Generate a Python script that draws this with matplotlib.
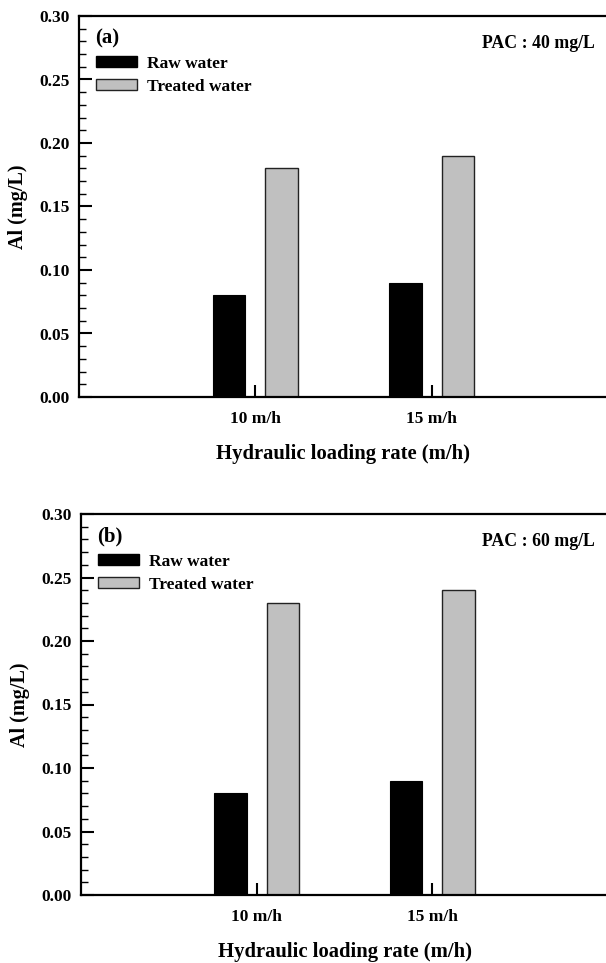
import matplotlib
matplotlib.use("Agg")
import matplotlib.pyplot as plt
import numpy as np
from matplotlib.ticker import MultipleLocator
from matplotlib.patches import Patch

categories = ["10 m/h", "15 m/h"]
raw_a = [0.08, 0.09]
treated_a = [0.18, 0.19]
raw_b = [0.08, 0.09]
treated_b = [0.23, 0.24]
panel_labels = ["(a)", "(b)"]
pac_labels = ["PAC : 40 mg/L", "PAC : 60 mg/L"]
series_names = ["Raw water", "Treated water"]

plt.rcParams['font.family'] = ['Liberation Serif', 'DejaVu Serif']
plt.rcParams['font.weight'] = 'bold'

fig = plt.figure(figsize=(6.06, 9.63), dpi=100)
W, H = 606, 963
positions = [(79, 16, 397), (81, 514, 895)]
data = [(raw_a, treated_a), (raw_b, treated_b)]

x = np.arange(1, len(categories) + 1)
bw = 0.185
off = 0.15
for i, ((left, top, bottom), (raw, trt)) in enumerate(zip(positions, data)):
    ax = fig.add_axes([left / W, 1 - bottom / H, (W + 2 - left) / W, (bottom - top) / H])
    ax.bar(x - off, raw, bw, color='black', edgecolor='black', linewidth=0.8, zorder=2)
    ax.bar(x + off, trt, bw, color='#c0c0c0', edgecolor='#222222', linewidth=1.0, zorder=2)
    ax.set_xlim(0, 3)
    ax.set_ylim(0, 0.30)
    ax.set_xticks(x)
    ax.set_xticklabels(categories, fontsize=12.5, fontweight='bold')
    ax.yaxis.set_major_locator(MultipleLocator(0.05))
    ax.yaxis.set_minor_locator(MultipleLocator(0.01))
    ax.set_yticklabels([f"{v:.2f}" for v in ax.get_yticks()], fontsize=12.5, fontweight='bold')
    ax.tick_params(axis='x', direction='in', length=9, width=1.5, pad=10)
    ax.tick_params(axis='y', which='major', direction='in', length=9, width=1.5, pad=6.5)
    ax.tick_params(axis='y', which='minor', direction='in', length=5, width=1.0)
    ax.spines['right'].set_visible(False)
    for s in ['top', 'left', 'bottom']:
        ax.spines[s].set_linewidth(1.6)
    ax.set_xlabel("Hydraulic loading rate (m/h)", fontsize=14.9, fontweight='bold', labelpad=12)
    ax.set_ylabel("Al (mg/L)", fontsize=14.5, fontweight='bold', labelpad=8.5)
    ax.text(0.030, 0.942, panel_labels[i], transform=ax.transAxes, fontsize=15,
            fontweight='bold', va='center', ha='left')
    ax.text(0.975, 0.929, pac_labels[i], transform=ax.transAxes, fontsize=12.8,
            fontweight='bold', va='center', ha='right')
    handles = [Patch(facecolor='black', edgecolor='black'),
               Patch(facecolor='#c0c0c0', edgecolor='#222222', linewidth=1.0)]
    ax.legend(handles, series_names, loc='upper left', bbox_to_anchor=(0.026, 0.905),
              frameon=False, prop={'weight': 'bold', 'size': 12.5},
              handlelength=2.36, handleheight=0.63, handletextpad=0.57,
              labelspacing=0.4, borderaxespad=0.0, borderpad=0.2)

fig.savefig("out.png", dpi=100)
